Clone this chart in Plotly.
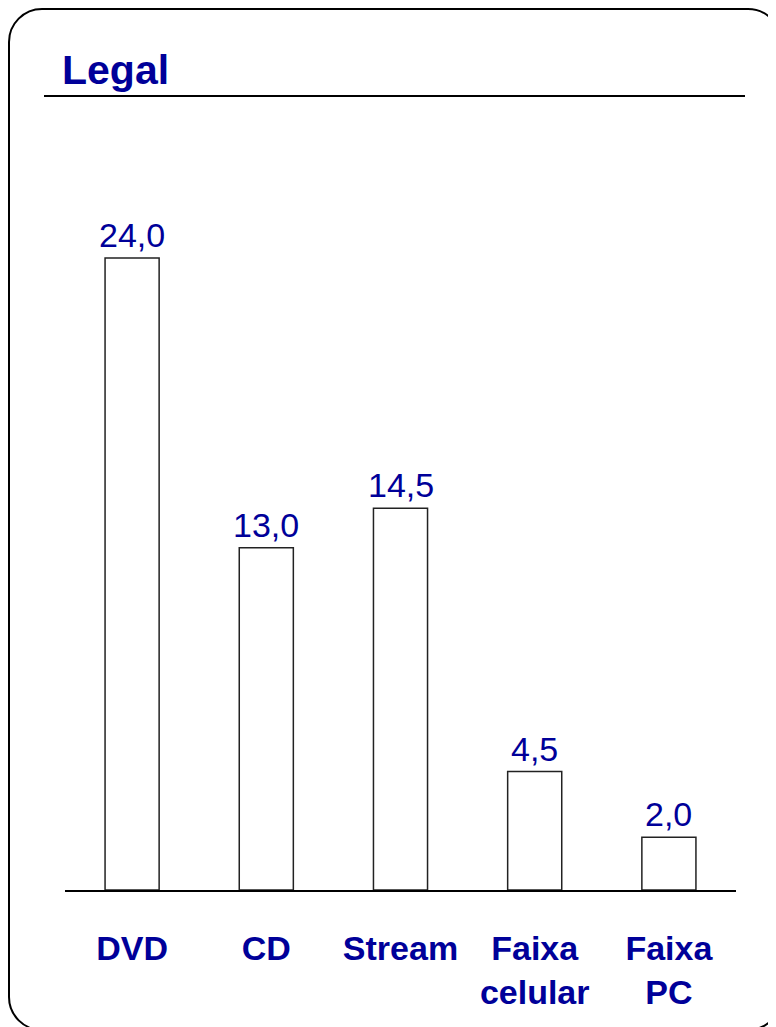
import plotly.graph_objects as go

categories = ["DVD", "CD", "Stream", "Faixa<br>celular", "Faixa<br>PC"]
values = [24.0, 13.0, 14.5, 4.5, 2.0]
title_text = "Legal"

W, H = 776, 1027
OFF = 8  # page body margin
BLUE = "#000099"
FONT = "Liberation Sans, Arial, sans-serif"

def px(x):
    return (x - OFF) / W

def py(y):
    return 1 - (y - OFF) / H

# plot area in screen pixels
L, R, T, B = 65, 736, 100, 890

fig = go.Figure()
fig.add_trace(go.Bar(
    x=categories, y=values,
    marker=dict(color="white", line=dict(color="#222222", width=1.5)),
    cliponaxis=False,
))

for c, v in zip(categories, values):
    fig.add_annotation(x=c, y=v, xref="x", yref="y", text=f"{v:.1f}".replace(".", ","),
                       showarrow=False, yanchor="bottom", yshift=2,
                       font=dict(size=34, color=BLUE, family=FONT))

# rounded border
x0, y0, x1, y1, r = 9, 9, 781, 1030, 33
k = 0.5523 * r
path = (
    f"M {px(x0 + r)},{py(y0)} L {px(x1 - r)},{py(y0)} "
    f"C {px(x1 - r + k)},{py(y0)} {px(x1)},{py(y0 + r - k)} {px(x1)},{py(y0 + r)} "
    f"L {px(x1)},{py(y1 - r)} "
    f"C {px(x1)},{py(y1 - r + k)} {px(x1 - r + k)},{py(y1)} {px(x1 - r)},{py(y1)} "
    f"L {px(x0 + r)},{py(y1)} "
    f"C {px(x0 + r - k)},{py(y1)} {px(x0)},{py(y1 - r + k)} {px(x0)},{py(y1 - r)} "
    f"L {px(x0)},{py(y0 + r)} "
    f"C {px(x0)},{py(y0 + r - k)} {px(x0 + r - k)},{py(y0)} {px(x0 + r)},{py(y0)} Z"
)
fig.add_shape(type="path", path=path, xref="paper", yref="paper",
              line=dict(color="black", width=2))
# title underline
fig.add_shape(type="line", xref="paper", yref="paper",
              x0=px(44), x1=px(745), y0=py(96), y1=py(96),
              line=dict(color="black", width=2))

fig.add_annotation(text=f"<b>{title_text}</b>", xref="paper", yref="paper",
                   x=px(60), y=py(70), xanchor="left", yanchor="middle",
                   showarrow=False, font=dict(size=41, color=BLUE, family=FONT))

fig.update_layout(
    width=W, height=H,
    margin=dict(l=0, r=0, t=0, b=0),
    paper_bgcolor="white", plot_bgcolor="white",
    showlegend=False,
    bargap=0.597,
    xaxis=dict(domain=[px(L), px(R)], showline=True, linecolor="black", linewidth=2,
               showgrid=False, ticks="", ticklabelstandoff=27,
               tickfont=dict(size=34, color=BLUE, family=FONT, weight="bold"),
               tickangle=0),
    yaxis=dict(domain=[py(B), py(T)], range=[0, 30], visible=False, showgrid=False,
               zeroline=False),
    font=dict(family=FONT),
)

fig.write_html("out.html")
